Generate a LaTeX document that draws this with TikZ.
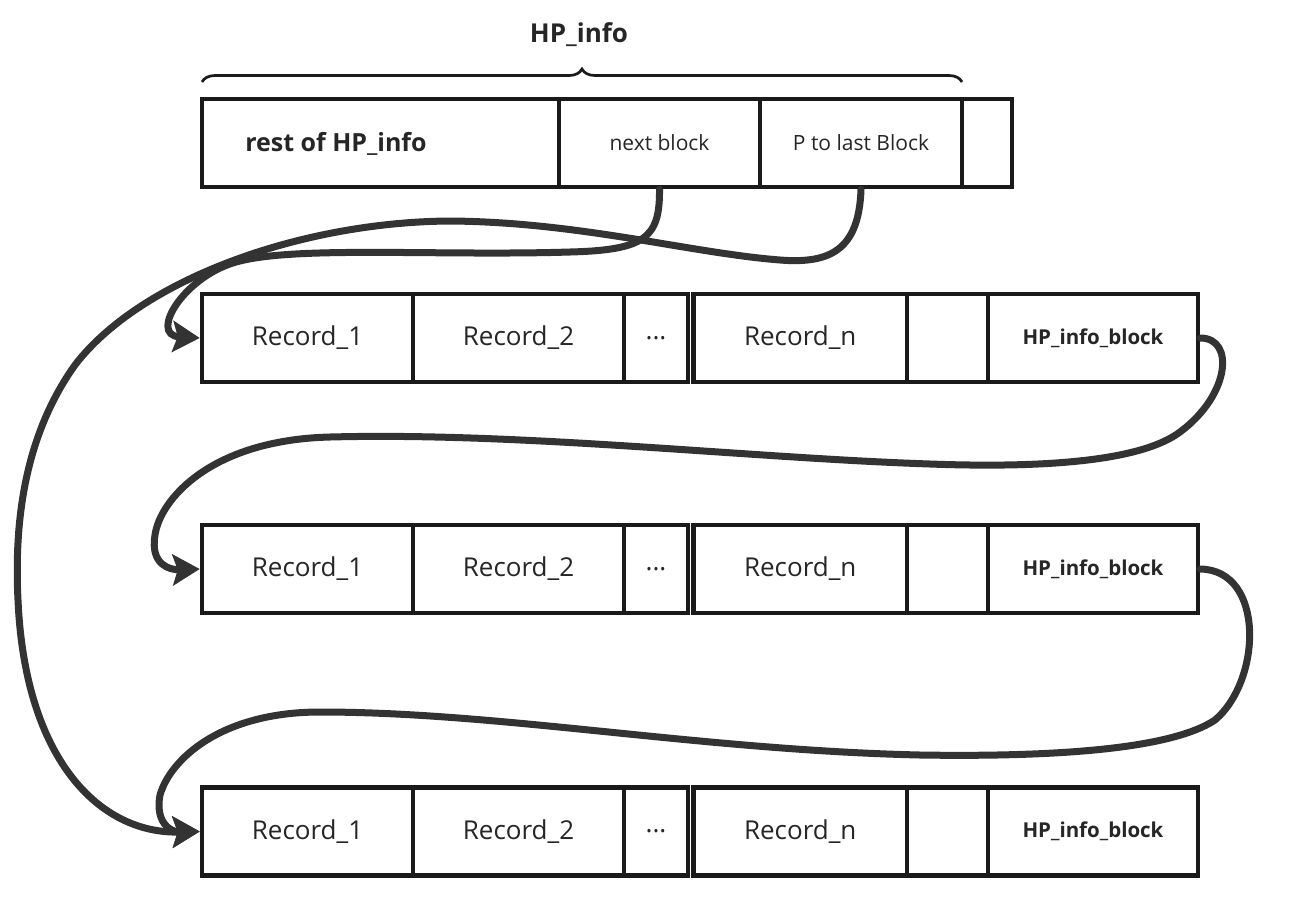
\documentclass[tikz,border=0pt]{standalone}
\usepackage{fontspec}
\setmainfont{Open Sans}
\usetikzlibrary{arrows.meta,decorations.pathreplacing}
\definecolor{boxc}{HTML}{1A1A1A}
\definecolor{linec}{HTML}{333333}
\definecolor{txt}{HTML}{262626}
\newcommand{\fsz}[1]{\fontsize{#1pt}{#1pt}\selectfont}
\begin{document}
\begin{tikzpicture}[x=1pt,y=-1pt,
  cell/.style={draw=boxc, line width=4.5pt, inner sep=0pt, minimum height=88pt, anchor=north west, text=txt},
  rec/.style={cell, font=\fsz{26}},
  hpb/.style={cell, font=\bfseries\fsz{20.5}},
  conn/.style={draw=linec, line width=7pt, line cap=round, -{Stealth[length=27pt,width=31pt,inset=5pt]}},
  brc/.style={draw=boxc, line width=2.7pt, decorate, decoration={brace, amplitude=13pt}}
]
\useasboundingbox[fill=white] (0,0) rectangle (1298,903);

% top block (positions include the half line width of outer sep)
\node[cell, minimum width=357pt] (t1) at (199.75,96.75) {};
\node[cell, minimum width=201pt, font=\fsz{21}] (t2) at (556.75,96.75) {next block};
\node[cell, minimum width=202pt, font=\fsz{21}] (t3) at (757.75,96.75) {P to last Block};
\node[cell, minimum width=50pt] (t4) at (959.75,96.75) {};
\node[text=txt, font=\bfseries\fsz{25}] (restlbl) at (336,144) {rest of HP\_info};

% brace and title
\draw[brc] (202,82) -- (962,82);
\node[text=txt, font=\bfseries\fsz{26}] (title) at (579,35) {HP\_info};

% record rows
\foreach \r/\y in {1/291.75,2/522.75,3/785.25}{
  \node[rec, minimum width=211pt] (r\r c1) at (199.75,\y) {Record\_1};
  \node[rec, minimum width=211pt] (r\r c2) at (410.75,\y) {Record\_2};
  \node[rec, minimum width=64pt] (r\r c3) at (621.75,\y) {...};
  \node[rec, minimum width=213.5pt] (r\r c4) at (691.25,\y) {Record\_n};
  \node[cell, minimum width=81pt] (r\r c5) at (904.75,\y) {};
  \node[hpb, minimum width=210pt] (h\r) at (985.75,\y) {HP\_info\_block};
}

% connectors
\draw[conn] (t2.south) .. controls (660,238) and (645,250) .. (570,252)
  .. controls (440,256) and (300,246) .. (240,261)
  .. controls (185,274) and (148,335) .. (r1c1.west);

\draw[conn] (t3.south) .. controls (859,250) and (830,264) .. (780,260)
  .. controls (690,253) and (580,222) .. (450,221)
  .. controls (300,222) and (140,280) .. (75,365)
  .. controls (25,435) and (14,520) .. (18,600)
  .. controls (25,760) and (100,834) .. (r3c1.west);

\draw[conn] (h1.east) .. controls (1235,338) and (1230,395) .. (1180,432)
  .. controls (1140,462) and (1040,468) .. (930,464)
  .. controls (750,458) and (520,432) .. (330,437)
  .. controls (210,440) and (160,500) .. (155,535)
  .. controls (150,565) and (170,570) .. (r2c1.west);

\draw[conn] (h2.east) .. controls (1265,570) and (1262,680) .. (1215,720)
  .. controls (1170,750) and (1050,757) .. (920,755)
  .. controls (700,750) and (500,712) .. (320,712)
  .. controls (220,712) and (170,760) .. (160,795)
  .. controls (155,822) and (170,832) .. (r3c1.west);
\end{tikzpicture}
\end{document}
